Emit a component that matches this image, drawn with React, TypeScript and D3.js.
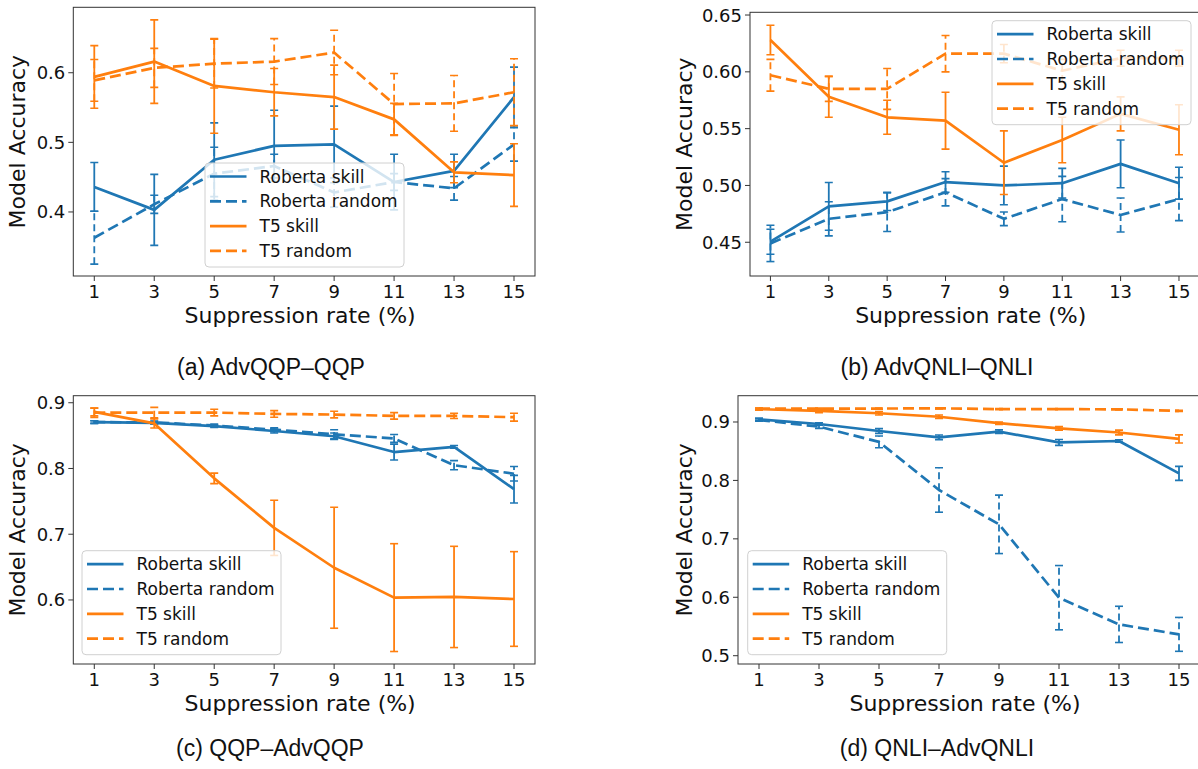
import React from "react";
import * as d3 from "d3";

const rates = [1, 3, 5, 7, 9, 11, 13, 15];
const seriesNames = ["Roberta skill", "Roberta random", "T5 skill", "T5 random"];

// (a) AdvQQP–QQP
const robertaSkillA = [0.436, 0.403, 0.475, 0.495, 0.497, 0.443, 0.459, 0.565];
const robertaSkillErrA = [0.035, 0.051, 0.053, 0.051, 0.055, 0.04, 0.024, 0.043];
const robertaRandomA = [0.363, 0.411, 0.455, 0.466, 0.428, 0.443, 0.434, 0.497];
const robertaRandomErrA = [0.038, 0.013, 0.038, 0.017, 0.021, 0.012, 0.017, 0.024];
const t5SkillA = [0.594, 0.616, 0.581, 0.572, 0.565, 0.533, 0.457, 0.453];
const t5SkillErrA = [0.045, 0.06, 0.068, 0.034, 0.046, 0.023, 0.015, 0.045];
const t5RandomA = [0.589, 0.607, 0.613, 0.616, 0.629, 0.555, 0.556, 0.572];
const t5RandomErrA = [0.03, 0.028, 0.035, 0.033, 0.032, 0.044, 0.04, 0.048];

// (b) AdvQNLI–QNLI
const robertaSkillB = [0.4505, 0.4816, 0.486, 0.503, 0.5, 0.502, 0.519, 0.502];
const robertaSkillErrB = [0.011, 0.021, 0.008, 0.009, 0.017, 0.013, 0.021, 0.014];
const robertaRandomB = [0.449, 0.4706, 0.4765, 0.494, 0.4706, 0.488, 0.474, 0.488];
const robertaRandomErrB = [0.016, 0.015, 0.017, 0.012, 0.006, 0.02, 0.015, 0.019];
const t5SkillB = [0.628, 0.578, 0.56, 0.557, 0.52, 0.54, 0.563, 0.549];
const t5SkillErrB = [0.013, 0.018, 0.015, 0.025, 0.028, 0.02, 0.015, 0.022];
const t5RandomB = [0.597, 0.585, 0.585, 0.616, 0.616, 0.601, 0.612, 0.612];
const t5RandomErrB = [0.014, 0.011, 0.018, 0.016, 0.008, 0.01, 0.007, 0.007];

// (c) QQP–AdvQQP
const robertaSkillC = [0.8706, 0.8695, 0.8645, 0.857, 0.849, 0.825, 0.833, 0.7685];
const robertaSkillErrC = [0.002, 0.002, 0.002, 0.003, 0.005, 0.012, 0.002, 0.021];
const robertaRandomC = [0.8706, 0.87, 0.8655, 0.859, 0.852, 0.8457, 0.805, 0.792];
const robertaRandomErrC = [0.002, 0.002, 0.002, 0.003, 0.007, 0.006, 0.007, 0.011];
const t5SkillC = [0.886, 0.8685, 0.785, 0.7097, 0.649, 0.6036, 0.6046, 0.6015];
const t5SkillErrC = [0.006, 0.007, 0.008, 0.042, 0.092, 0.082, 0.077, 0.072];
const t5RandomC = [0.8848, 0.885, 0.885, 0.883, 0.882, 0.88, 0.88, 0.878];
const t5RandomErrC = [0.007, 0.008, 0.005, 0.005, 0.005, 0.005, 0.004, 0.006];

// (d) QNLI–AdvQNLI
const robertaSkillD = [0.9046, 0.8966, 0.8846, 0.8738, 0.8835, 0.865, 0.8675, 0.812];
const robertaSkillErrD = [0.002, 0.002, 0.004, 0.004, 0.003, 0.005, 0.002, 0.012];
const robertaRandomD = [0.9034, 0.892, 0.866, 0.7836, 0.7248, 0.5993, 0.5536, 0.5365];
const robertaRandomErrD = [0.002, 0.003, 0.01, 0.038, 0.05, 0.055, 0.031, 0.029];
const t5SkillD = [0.922, 0.919, 0.915, 0.909, 0.898, 0.889, 0.882, 0.871];
const t5SkillErrD = [0.002, 0.003, 0.003, 0.003, 0.002, 0.003, 0.004, 0.007];
const t5RandomD = [0.923, 0.923, 0.923, 0.9234, 0.922, 0.922, 0.9217, 0.919];
const t5RandomErrD = [0.001, 0.001, 0.001, 0.001, 0.001, 0.001, 0.001, 0.001];

const BLUE = "#1f77b4";
const ORANGE = "#ff7f0e";
const colors = [BLUE, BLUE, ORANGE, ORANGE];
const dashedFlags = [false, true, false, true];
const DASH = "11,5";
const MPL_FONT = "'DejaVu Sans', sans-serif";

type Box = { x: number; y: number; w: number; h: number };

type PanelProps = {
  frame: Box;
  yDomain: [number, number];
  yTicks: number[];
  yFormat: string;
  values: number[][];
  errors: number[][];
  legend: { x: number; y: number };
  yLabelX: number;
  caption: string;
  captionX: number;
  captionY: number;
  clipId: string;
};

const Panel = ({ frame, yDomain, yTicks, yFormat, values, errors, legend, yLabelX, caption, captionX, captionY, clipId }: PanelProps) => {
  const x = d3.scaleLinear().domain([0.3, 15.7]).range([frame.x, frame.x + frame.w]);
  const y = d3.scaleLinear().domain(yDomain).range([frame.y + frame.h, frame.y]);
  const line = d3.line<number>().x((d, i) => x(rates[i])).y(d => y(d));
  const fmt = d3.format(yFormat);
  const bottom = frame.y + frame.h;

  return (
    <g>
      <defs>
        <clipPath id={clipId}>
          <rect x={frame.x} y={frame.y} width={frame.w} height={frame.h} />
        </clipPath>
      </defs>

      <g clipPath={`url(#${clipId})`}>
        {values.map((vals, si) => (
          <g key={si}>
            <path d={line(vals) || ""} fill="none" stroke={colors[si]} strokeWidth={2.7}
              strokeDasharray={dashedFlags[si] ? DASH : undefined} strokeLinejoin="round" />
            {vals.map((v, i) => {
              const cx = x(rates[i]);
              const y0 = y(v - errors[si][i]);
              const y1 = y(v + errors[si][i]);
              return (
                <g key={i} stroke={colors[si]}>
                  <line x1={cx} x2={cx} y1={y0} y2={y1} strokeWidth={1.8}
                    strokeDasharray={dashedFlags[si] ? "7,4" : undefined} />
                  <line x1={cx - 4} x2={cx + 4} y1={y0} y2={y0} strokeWidth={1.6} />
                  <line x1={cx - 4} x2={cx + 4} y1={y1} y2={y1} strokeWidth={1.6} />
                </g>
              );
            })}
          </g>
        ))}
      </g>

      <rect x={frame.x} y={frame.y} width={frame.w} height={frame.h} fill="none" stroke="#333" strokeWidth={1} />

      {rates.map(r => (
        <g key={r}>
          <line x1={x(r)} x2={x(r)} y1={bottom} y2={bottom + 5} stroke="#333" />
          <text x={x(r)} y={bottom + 22} textAnchor="middle" fontFamily={MPL_FONT} fontSize={18} fill="#111">{r}</text>
        </g>
      ))}
      {yTicks.map(t => (
        <g key={t}>
          <line x1={frame.x - 5} x2={frame.x} y1={y(t)} y2={y(t)} stroke="#333" />
          <text x={frame.x - 8} y={y(t)} dy="0.36em" textAnchor="end" fontFamily={MPL_FONT} fontSize={18} fill="#111">{fmt(t)}</text>
        </g>
      ))}

      <text x={frame.x + frame.w / 2 - 4} y={bottom + 47} textAnchor="middle" fontFamily={MPL_FONT} fontSize={22} fill="#111">
        Suppression rate (%)
      </text>
      <text transform={`translate(${yLabelX},${frame.y + frame.h / 2}) rotate(-90)`} textAnchor="middle"
        fontFamily={MPL_FONT} fontSize={22} fill="#111">
        Model Accuracy
      </text>

      <g transform={`translate(${legend.x},${legend.y})`}>
        <rect x={0} y={0} width={199} height={104} rx={4} fill="white" fillOpacity={0.8} stroke="#d0d0d0" />
        {seriesNames.map((name, i) => (
          <g key={name} transform={`translate(0,${13.5 + i * 24.8})`}>
            <line x1={5} x2={41.5} y1={0} y2={0} stroke={colors[i]} strokeWidth={2.7}
              strokeDasharray={dashedFlags[i] ? DASH : undefined} />
            <text x={54.5} y={0} dy="0.36em" fontFamily={MPL_FONT} fontSize={17} fill="#111">{name}</text>
          </g>
        ))}
      </g>

      <text x={captionX} y={captionY} textAnchor="middle" fontFamily="'Liberation Sans', Arial, sans-serif" fontSize={23} fill="#111">
        {caption}
      </text>
    </g>
  );
};

export default function App() {
  return (
    <svg width={1198} height={769} style={{ position: "absolute", left: 0, top: 0, background: "white" }}>
      <Panel
        frame={{ x: 73.3, y: 7.3, w: 461.7, h: 268.7 }}
        yDomain={[0.308, 0.694]}
        yTicks={[0.4, 0.5, 0.6]}
        yFormat=".1f"
        values={[robertaSkillA, robertaRandomA, t5SkillA, t5RandomA]}
        errors={[robertaSkillErrA, robertaRandomErrA, t5SkillErrA, t5RandomErrA]}
        legend={{ x: 205, y: 163 }}
        yLabelX={25}
        caption="(a) AdvQQP–QQP"
        captionX={271}
        captionY={375}
        clipId="clipA"
      />
      <Panel
        frame={{ x: 750, y: 12.3, w: 449.4, h: 263.7 }}
        yDomain={[0.4203, 0.6524]}
        yTicks={[0.45, 0.5, 0.55, 0.6, 0.65]}
        yFormat=".2f"
        values={[robertaSkillB, robertaRandomB, t5SkillB, t5RandomB]}
        errors={[robertaSkillErrB, robertaRandomErrB, t5SkillErrB, t5RandomErrB]}
        legend={{ x: 992, y: 20.7 }}
        yLabelX={692}
        caption="(b) AdvQNLI–QNLI"
        captionX={937}
        captionY={375}
        clipId="clipB"
      />
      <Panel
        frame={{ x: 73.3, y: 395.7, w: 461.7, h: 268.3 }}
        yDomain={[0.5026, 0.9107]}
        yTicks={[0.6, 0.7, 0.8, 0.9]}
        yFormat=".1f"
        values={[robertaSkillC, robertaRandomC, t5SkillC, t5RandomC]}
        errors={[robertaSkillErrC, robertaRandomErrC, t5SkillErrC, t5RandomErrC]}
        legend={{ x: 82, y: 550.7 }}
        yLabelX={25}
        caption="(c) QQP–AdvQQP"
        captionX={270}
        captionY={756}
        clipId="clipC"
      />
      <Panel
        frame={{ x: 738, y: 395.7, w: 462, h: 268.3 }}
        yDomain={[0.4858, 0.945]}
        yTicks={[0.5, 0.6, 0.7, 0.8, 0.9]}
        yFormat=".1f"
        values={[robertaSkillD, robertaRandomD, t5SkillD, t5RandomD]}
        errors={[robertaSkillErrD, robertaRandomErrD, t5SkillErrD, t5RandomErrD]}
        legend={{ x: 747.7, y: 550.7 }}
        yLabelX={692}
        caption="(d) QNLI–AdvQNLI"
        captionX={937}
        captionY={756}
        clipId="clipD"
      />
    </svg>
  );
}
